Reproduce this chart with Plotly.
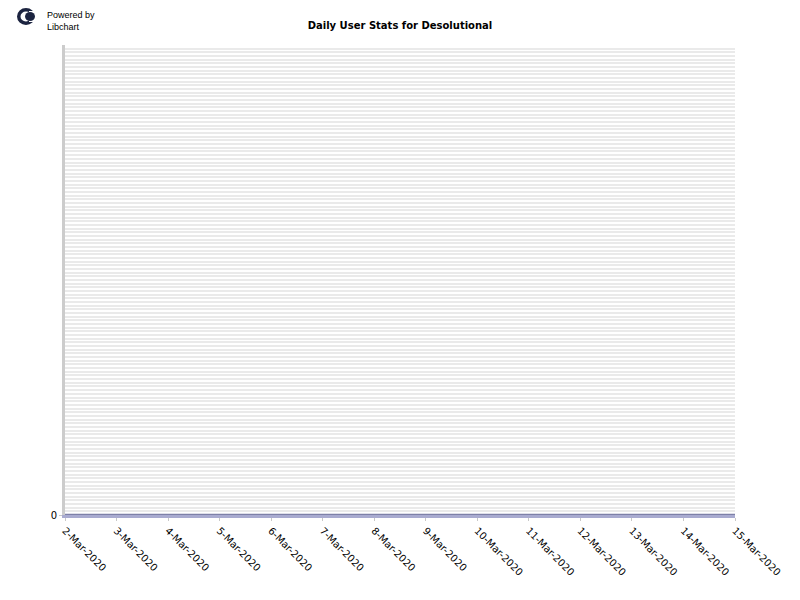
import plotly.graph_objects as go

# Daily stats, all days recorded zero users
days = ['2-Mar-2020', '3-Mar-2020', '4-Mar-2020', '5-Mar-2020', '6-Mar-2020',
        '7-Mar-2020', '8-Mar-2020', '9-Mar-2020', '10-Mar-2020', '11-Mar-2020',
        '12-Mar-2020', '13-Mar-2020', '14-Mar-2020', '15-Mar-2020']
users = [0, 0, 0, 0, 0, 0, 0, 0, 0, 0, 0, 0, 0, 0]

title = 'Daily User Stats for Desolutional'

# page body adds an 8px offset, margins are set to make up for it
OFF = 8
L, R, T, B = 57, 73, 37, 93
PLOT_W = 800 - L - R
PLOT_H = 600 - T - B


def px(x):
    """Screen pixel x -> paper coordinate."""
    return (x - OFF - L) / PLOT_W


def py(y):
    """Screen pixel y -> paper coordinate."""
    return (600 - B - (y - OFF)) / PLOT_H


def main():
    trace = go.Scatter(x=days, y=users, mode='lines',
                       line=dict(color='#7e80a8', width=2.5),
                       cliponaxis=False, showlegend=False)

    layout = go.Layout(
        width=800, height=600,
        margin=dict(l=L, r=R, t=T, b=B, autoexpand=False),
        paper_bgcolor='white', plot_bgcolor='white',
        font=dict(family='DejaVu Sans', size=10, color='black'),
        title=dict(text='<b>' + title + '</b>', xref='container',
                   x=(400 - OFF) / 800, xanchor='center',
                   yref='container', y=1 - (25 - OFF) / 600, yanchor='middle',
                   font=dict(size=10)),
        xaxis=dict(type='category', range=[0, len(days) - 1],
                   tickangle=45, showgrid=False, zeroline=False,
                   ticks='outside', ticklen=3, tickcolor='#c8c8c8',
                   showline=True, linecolor='#a9abd0', linewidth=3,
                   automargin=False),
        yaxis=dict(range=[0, 128], tickvals=[0], ticktext=['0'],
                   showgrid=False, zeroline=False,
                   ticks='outside', ticklen=3, tickcolor='#c8c8c8',
                   showline=True, linecolor='#cccccc', linewidth=3,
                   automargin=False,
                   minor=dict(dtick=1, showgrid=True, gridcolor='#eaeaea',
                              gridwidth=1.5)),
    )
    fig = go.Figure(data=[trace], layout=layout)

    # Libchart logo in the corner
    logo = [
        ('circle', 17, 8, 35, 25, '#1c2440'),
        ('circle', 20.5, 11.5, 31.5, 21.5, 'white'),
        ('rect', 29, 11, 37, 22, 'white'),
        ('circle', 25, 12, 35, 21, '#1c2440'),
    ]
    for kind, x0, y0, x1, y1, color in logo:
        fig.add_shape(type=kind, xref='paper', yref='paper',
                      x0=px(x0), x1=px(x1), y0=py(y1), y1=py(y0),
                      fillcolor=color, line_width=0)
    fig.add_annotation(text='Powered by<br>Libchart', xref='paper', yref='paper',
                       x=px(45), y=py(8), xanchor='left', yanchor='top',
                       showarrow=False, align='left',
                       font=dict(family='Liberation Sans', size=9, color='black'))

    fig.write_html('out.html')


if __name__ == '__main__':
    main()
